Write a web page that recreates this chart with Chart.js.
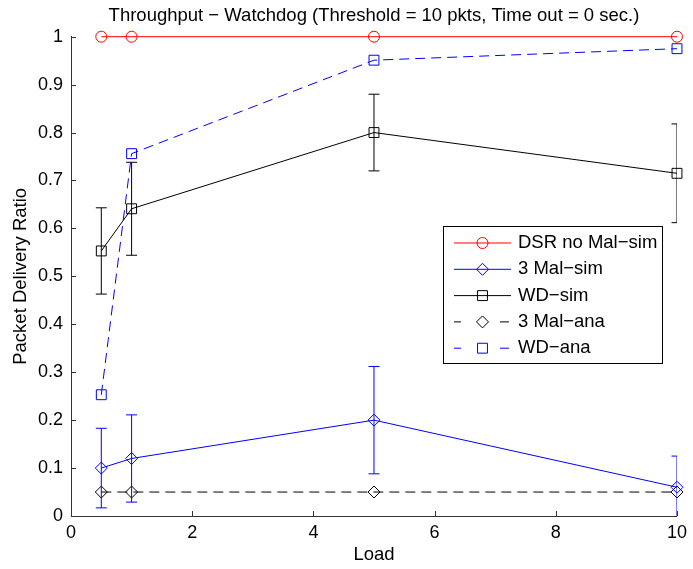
<!DOCTYPE html>
<html>
<head>
<meta charset="utf-8">
<script src="https://cdn.jsdelivr.net/npm/chart.js@4.4.1/dist/chart.umd.min.js"></script>
<style>
  html, body { margin: 0; padding: 0; background: #fff; }
  #wrap { width: 693px; height: 569px; }
</style>
</head>
<body>
<div id="wrap"><canvas id="chart" width="693" height="569"></canvas></div>
<script>
// data
const loads = [0.5, 1, 5, 10];
const dsrNoMalSim = [1, 1, 1, 1];
const mal3Sim = [0.1, 0.12, 0.2, 0.06];
const mal3SimErr = [0.083, 0.091, 0.112, 0.065];
const wdSim = [0.553, 0.641, 0.8, 0.715];
const wdSimErr = [0.09, 0.097, 0.08, 0.103];
const mal3Ana = [0.05, 0.05, 0.05, 0.05];
const wdAna = [0.253, 0.756, 0.951, 0.975];
const xTicks = [0, 2, 4, 6, 8, 10];
const yTicks = [0, 0.1, 0.2, 0.3, 0.4, 0.5, 0.6, 0.7, 0.8, 0.9, 1];

const FONT = "'Liberation Sans', Arial, Helvetica, sans-serif";
Chart.defaults.color = '#000';
Chart.defaults.font.family = FONT;

const toPoints = (ys) => loads.map((x, i) => ({ x: x, y: ys[i] }));

function series(label, ys, color, style, radius, dashed, errors) {
    return {
        label: label,
        data: toPoints(ys),
        showLine: true,
        borderColor: color,
        backgroundColor: 'rgba(0,0,0,0)',
        borderWidth: 1,
        borderDash: dashed ? [10, 6] : [],
        pointStyle: style,
        pointRadius: radius,
        pointHoverRadius: radius,
        pointBorderWidth: 1,
        pointBorderColor: color,
        pointBackgroundColor: 'rgba(0,0,0,0)',
        clip: false,
        errors: errors
    };
}

// error bars, clipped to the axes like matlab does
const errorBars = {
    id: 'errorBars',
    afterDatasetsDraw(chart) {
        const { ctx, chartArea, scales: { x, y } } = chart;
        ctx.save();
        ctx.beginPath();
        ctx.rect(chartArea.left, chartArea.top, chartArea.right - chartArea.left, chartArea.bottom - chartArea.top);
        ctx.clip();
        chart.data.datasets.forEach(ds => {
            if (!ds.errors) return;
            ctx.strokeStyle = ds.borderColor;
            ctx.lineWidth = 1;
            ctx.setLineDash([]);
            ds.data.forEach((p, i) => {
                const px = x.getPixelForValue(p.x);
                const top = y.getPixelForValue(p.y + ds.errors[i]);
                const bot = y.getPixelForValue(p.y - ds.errors[i]);
                ctx.beginPath();
                ctx.moveTo(px, top); ctx.lineTo(px, bot);
                ctx.moveTo(px - 5.5, top); ctx.lineTo(px + 5.5, top);
                ctx.moveTo(px - 5.5, bot); ctx.lineTo(px + 5.5, bot);
                ctx.stroke();
            });
        });
        ctx.restore();
    }
};

// inward tick marks
const innerTicks = {
    id: 'innerTicks',
    afterDraw(chart) {
        const { ctx, chartArea, scales: { x, y } } = chart;
        ctx.save();
        ctx.strokeStyle = '#333';
        ctx.lineWidth = 1;
        ctx.beginPath();
        x.ticks.forEach(t => {
            const px = Math.round(x.getPixelForValue(t.value)) + 0.5;
            ctx.moveTo(px, chartArea.bottom);
            ctx.lineTo(px, chartArea.bottom - 5);
        });
        y.ticks.forEach(t => {
            const py = Math.round(y.getPixelForValue(t.value)) + 0.5;
            ctx.moveTo(chartArea.left, py);
            ctx.lineTo(chartArea.left + 5, py);
        });
        ctx.stroke();
        ctx.restore();
    }
};

function marker(ctx, style, r, cx, cy) {
    ctx.beginPath();
    if (style === 'circle') {
        ctx.arc(cx, cy, r, 0, Math.PI * 2);
    } else if (style === 'rectRot') {
        ctx.moveTo(cx - r, cy); ctx.lineTo(cx, cy - r);
        ctx.lineTo(cx + r, cy); ctx.lineTo(cx, cy + r);
        ctx.closePath();
    } else {
        const s = r * Math.SQRT1_2;
        ctx.rect(cx - s, cy - s, 2 * s, 2 * s);
    }
    ctx.stroke();
}

// matlab style legend box
const boxLegend = {
    id: 'boxLegend',
    afterDraw(chart) {
        const ctx = chart.ctx;
        const bx = 443, by = 226, bw = 219, bh = 137;
        ctx.save();
        ctx.fillStyle = '#fff';
        ctx.fillRect(bx, by, bw, bh);
        ctx.strokeStyle = '#000';
        ctx.lineWidth = 1;
        ctx.strokeRect(bx + 0.5, by + 0.5, bw, bh);
        ctx.font = '18.5px ' + FONT;
        ctx.textBaseline = 'middle';
        ctx.textAlign = 'left';
        chart.data.datasets.forEach((ds, i) => {
            const ry = 243 + i * 26.3;
            ctx.strokeStyle = ds.borderColor;
            ctx.lineWidth = 1;
            ctx.beginPath();
            if (ds.borderDash.length) {
                ctx.moveTo(454, ry); ctx.lineTo(461, ry);
                ctx.moveTo(500, ry); ctx.lineTo(509, ry);
            } else {
                ctx.moveTo(454, ry); ctx.lineTo(511, ry);
            }
            ctx.stroke();
            marker(ctx, ds.pointStyle, ds.pointRadius, 482.5, ry);
            ctx.fillStyle = '#000';
            ctx.fillText(ds.label, 518, ry);
        });
        ctx.restore();
    }
};

new Chart(document.getElementById('chart'), {
    type: 'scatter',
    data: {
        datasets: [
            series('DSR no Mal\u2212sim', dsrNoMalSim, '#ff0000', 'circle', 5.5, false),
            series('3 Mal\u2212sim', mal3Sim, '#0000ff', 'rectRot', 6, false, mal3SimErr),
            series('WD\u2212sim', wdSim, '#000000', 'rect', 7, false, wdSimErr),
            series('3 Mal\u2212ana', mal3Ana, '#000000', 'rectRot', 6, true),
            series('WD\u2212ana', wdAna, '#0000ff', 'rect', 7, true)
        ]
    },
    options: {
        responsive: false,
        animation: false,
        events: [],
        layout: { padding: { left: 0, right: 15, top: 0, bottom: 0 } },
        plugins: {
            legend: { display: false },
            tooltip: { enabled: false },
            title: {
                display: true,
                fullSize: false,
                text: 'Throughput \u2212 Watchdog (Threshold = 10 pkts, Time out = 0 sec.)',
                color: '#000',
                font: { size: 18.5, weight: 'normal', family: FONT },
                padding: { top: 5, bottom: 9.5 }
            }
        },
        scales: {
            x: {
                type: 'linear',
                min: 0,
                max: 10,
                afterBuildTicks: s => { s.ticks = xTicks.map(v => ({ value: v })); },
                afterFit: s => { s.height = 53; },
                grid: { display: false, drawTicks: false },
                border: { display: true, color: '#333', width: 1 },
                ticks: { padding: 6, font: { size: 18, family: FONT }, color: '#000', maxRotation: 0 },
                title: { display: true, text: 'Load', font: { size: 18.5, family: FONT }, color: '#000', padding: { top: 0, bottom: 2.5 } }
            },
            y: {
                type: 'linear',
                min: 0,
                max: 1,
                afterBuildTicks: s => { s.ticks = yTicks.map(v => ({ value: v })); },
                afterFit: s => { s.width = 71; },
                grid: { display: false, drawTicks: false },
                border: { display: true, color: '#333', width: 1 },
                ticks: { padding: 8, font: { size: 18, family: FONT }, color: '#000', callback: v => String(Math.round(v * 10) / 10) },
                title: { display: true, text: 'Packet Delivery Ratio', font: { size: 18.5, family: FONT }, color: '#000', padding: { top: 9.5, bottom: 0 } }
            }
        }
    },
    plugins: [errorBars, innerTicks, boxLegend]
});
</script>
</body>
</html>
